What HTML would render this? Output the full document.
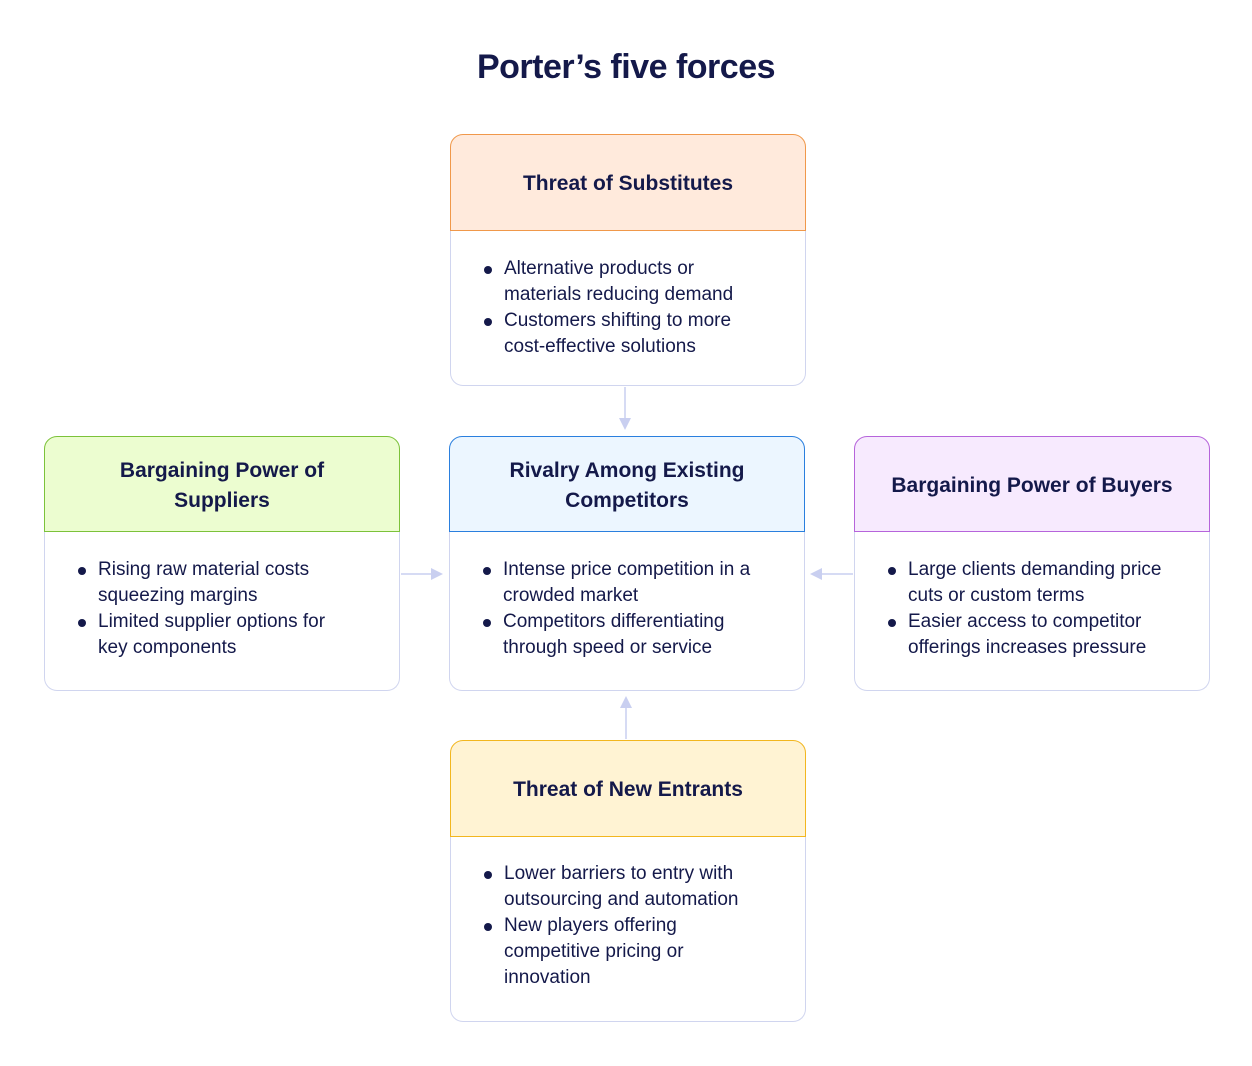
<!DOCTYPE html>
<html><head><meta charset="utf-8"><style>
body{margin:0;width:1252px;height:1066px;background:#fff;font-family:"Liberation Sans",sans-serif;color:#14194a;position:relative;overflow:hidden}
.t{position:absolute;top:48px;left:0;width:1252px;text-align:center;font-size:34px;font-weight:bold;letter-spacing:-0.5px}
.h{position:absolute;box-sizing:border-box;border:1.5px solid;border-radius:13px 13px 0 0;display:flex;align-items:center;justify-content:center;text-align:center;font-size:21px;font-weight:bold;line-height:30px;padding:3px 20px 0;width:356px}
.d{position:absolute;box-sizing:border-box;border:1.5px solid #d0d5ef;border-top:none;border-radius:0 0 13px 13px;width:356px;background:#fff}
ul{margin:0;padding:0;list-style:none;font-size:19px;line-height:26px}
li{position:relative;padding-left:53px;white-space:nowrap}
li:before{content:"";position:absolute;left:33px;top:10px;width:8px;height:8px;border-radius:50%;background:#14194a}
</style></head><body>
<div class="t">Porter’s five forces</div>

<div class="h" style="left:450px;top:134px;height:97px;background:#ffeadc;border-color:#f0984a">Threat of Substitutes</div>
<div class="d" style="left:450px;top:231px;height:155px"><ul style="padding-top:25px"><li>Alternative products or<br>materials reducing demand</li><li>Customers shifting to more<br>cost-effective solutions</li></ul></div>

<div class="h" style="left:44px;top:436px;height:96px;background:#ecfdd0;border-color:#7cc23a">Bargaining Power of<br>Suppliers</div>
<div class="d" style="left:44px;top:532px;height:159px"><ul style="padding-top:25px"><li>Rising raw material costs<br>squeezing margins</li><li>Limited supplier options for<br>key components</li></ul></div>

<div class="h" style="left:449px;top:436px;height:96px;background:#ecf6ff;border-color:#2a7fde">Rivalry Among Existing<br>Competitors</div>
<div class="d" style="left:449px;top:532px;height:159px"><ul style="padding-top:25px"><li>Intense price competition in a<br>crowded market</li><li>Competitors differentiating<br>through speed or service</li></ul></div>

<div class="h" style="left:854px;top:436px;height:96px;background:#f7eafe;border-color:#b664db">Bargaining Power of Buyers</div>
<div class="d" style="left:854px;top:532px;height:159px"><ul style="padding-top:25px"><li>Large clients demanding price<br>cuts or custom terms</li><li>Easier access to competitor<br>offerings increases pressure</li></ul></div>

<div class="h" style="left:450px;top:740px;height:97px;background:#fff3d3;border-color:#f2b61f">Threat of New Entrants</div>
<div class="d" style="left:450px;top:837px;height:185px"><ul style="padding-top:24px"><li>Lower barriers to entry with<br>outsourcing and automation</li><li>New players offering<br>competitive pricing or<br>innovation</li></ul></div>

<svg width="1252" height="1066" style="position:absolute;left:0;top:0" fill="#c9cff0" stroke="#c9cff0">
<line x1="625" y1="387" x2="625" y2="420" stroke-width="1.5"/><polygon points="619,418 631,418 625,430" stroke="none"/>
<line x1="401" y1="574" x2="433" y2="574" stroke-width="1.5"/><polygon points="431,568 431,580 443,574" stroke="none"/>
<line x1="853" y1="574" x2="820" y2="574" stroke-width="1.5"/><polygon points="822,568 822,580 810,574" stroke="none"/>
<line x1="626" y1="739" x2="626" y2="706" stroke-width="1.5"/><polygon points="620,708 632,708 626,696" stroke="none"/>
</svg>
</body></html>
